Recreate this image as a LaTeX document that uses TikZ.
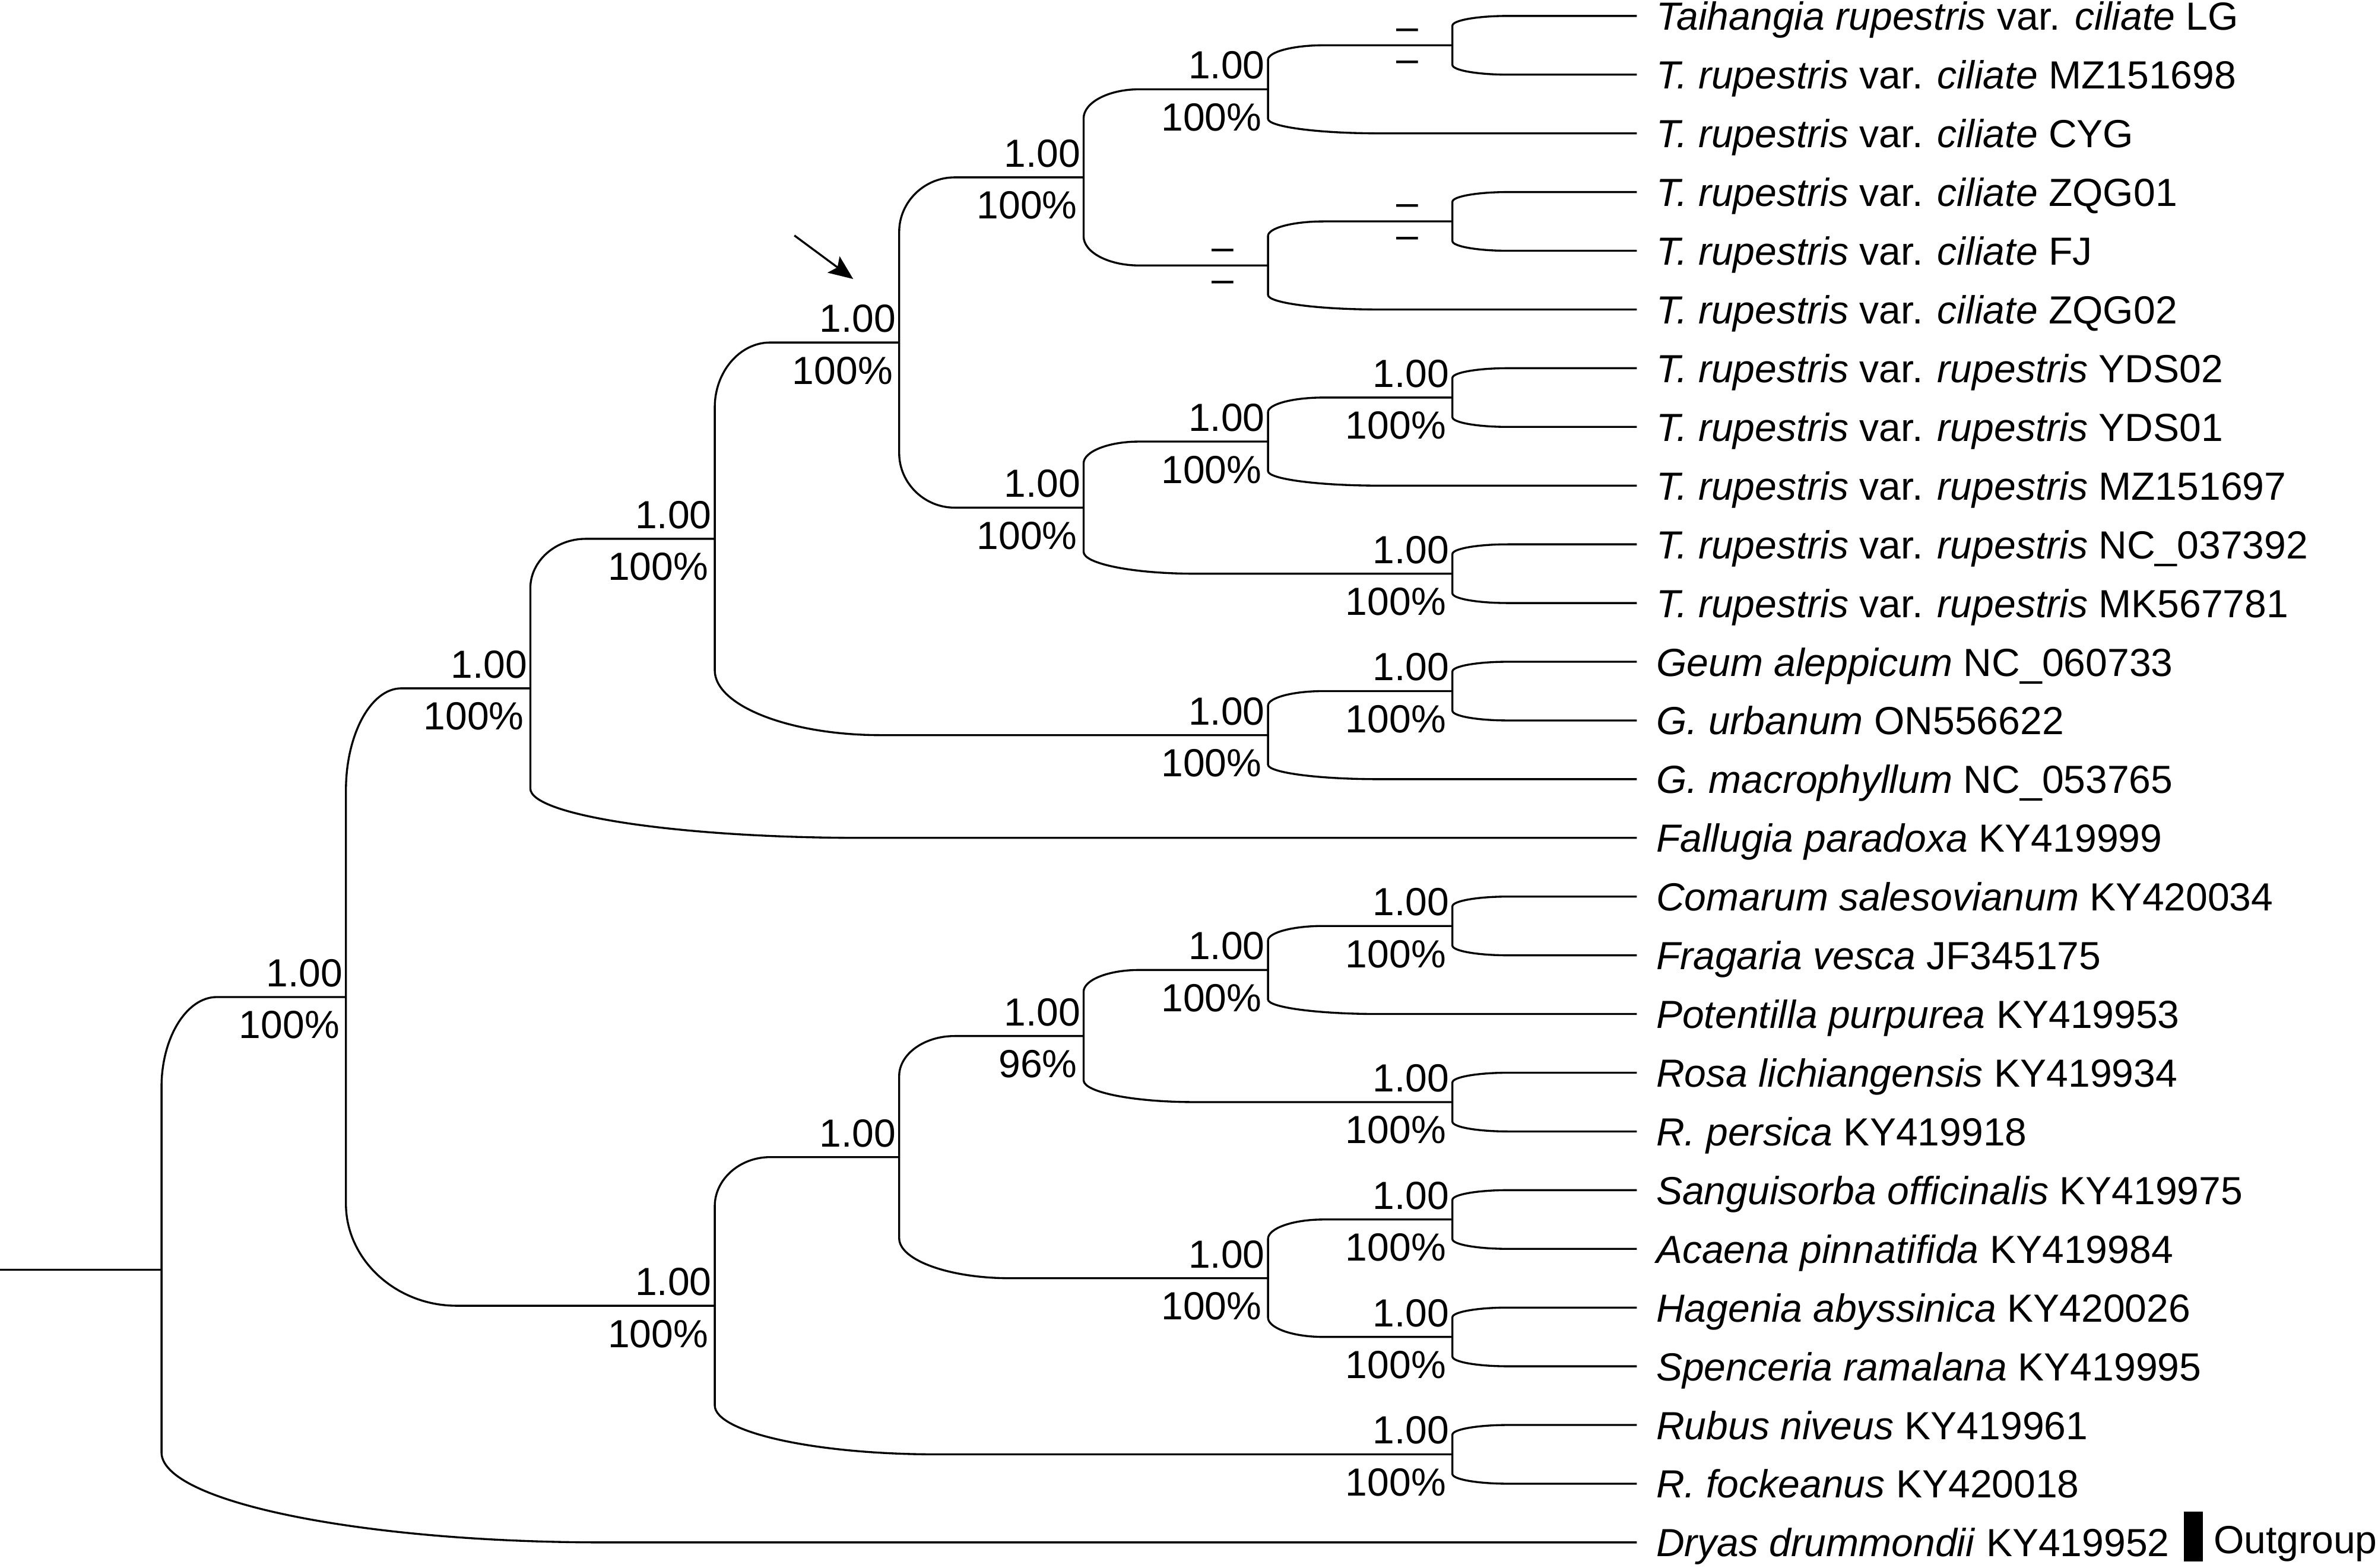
\documentclass[tikz,border=0pt]{standalone}
\usepackage{fontspec}
\setmainfont{Liberation Sans}
\usetikzlibrary{calc,arrows.meta}

\begin{document}
\begin{tikzpicture}[x=3.1067cm, y=-0.98924cm, line width=0.95pt,
    font=\fontsize{18.8}{22}\selectfont,
    clade/.style = {to path={
      -- ($(\tikztostart |- \tikztotarget)!.33!(\tikztostart)$)
      .. controls ($(\tikztostart |- \tikztotarget)!.15!(\tikztostart)$)
      and ($(\tikztostart |- \tikztotarget)!.135!(\tikztotarget)$)
      .. ($(\tikztostart |- \tikztotarget)!.3!(\tikztotarget)$)
      -- (\tikztotarget)}},
    taxon/.style = {anchor=base west, inner sep=0pt,
      xshift=0.31cm, yshift=-0.240cm},
    pp/.style    = {anchor=base east, inner sep=0pt,
      xshift=-0.038cm, yshift=0.176cm},
    bs/.style    = {anchor=base east, inner sep=0pt,
      xshift=-0.092cm, yshift=-0.700cm},
    nsup/.style  = {anchor=base east, inner sep=0pt, text height=0.32em,
      text depth=0pt, xshift=-0.562cm, yshift=0.092cm},
    nsdown/.style = {anchor=base east, inner sep=0pt, text height=0.32em,
      text depth=0pt, xshift=-0.562cm, yshift=-0.455cm},
  ]
  \useasboundingbox (-0.8758,-0.2712) rectangle (12.0189,26.4334);

  % tips
  \foreach \i/\txt in {
    1/{\textit{Taihangia rupestris} var. \textit{ciliate} LG},
    2/{\textit{T. rupestris} var. \textit{ciliate} MZ151698},
    3/{\textit{T. rupestris} var. \textit{ciliate} CYG},
    4/{\textit{T. rupestris} var. \textit{ciliate} ZQG01},
    5/{\textit{T. rupestris} var. \textit{ciliate} FJ},
    6/{\textit{T. rupestris} var. \textit{ciliate} ZQG02},
    7/{\textit{T. rupestris} var. \textit{rupestris} YDS02},
    8/{\textit{T. rupestris} var. \textit{rupestris} YDS01},
    9/{\textit{T. rupestris} var. \textit{rupestris} MZ151697},
    10/{\textit{T. rupestris} var. \textit{rupestris} NC\_037392},
    11/{\textit{T. rupestris} var. \textit{rupestris} MK567781},
    12/{\textit{Geum aleppicum} NC\_060733},
    13/{\textit{G. urbanum} ON556622},
    14/{\textit{G. macrophyllum} NC\_053765},
    15/{\textit{Fallugia paradoxa} KY419999},
    16/{\textit{Comarum salesovianum} KY420034},
    17/{\textit{Fragaria vesca} JF345175},
    18/{\textit{Potentilla purpurea} KY419953},
    19/{\textit{Rosa lichiangensis} KY419934},
    20/{\textit{R. persica} KY419918},
    21/{\textit{Sanguisorba officinalis} KY419975},
    22/{\textit{Acaena pinnatifida} KY419984},
    23/{\textit{Hagenia abyssinica} KY420026},
    24/{\textit{Spenceria ramalana} KY419995},
    25/{\textit{Rubus niveus} KY419961},
    26/{\textit{R. fockeanus} KY420018},
    27/{\textit{Dryas drummondii} KY419952}} {
    \coordinate (l\i) at (8,\i-1);
    \node[taxon] (t\i) at (l\i) {\txt};
  }

  % internal nodes
  \coordinate (base)  at (-0.8758,21.3555);
  \coordinate (root)  at (0,21.3555);
  \coordinate (nA)    at (1,16.7109);
  \coordinate (nB)    at (2,11.4531);
  \coordinate (nC)    at (3,8.9063);
  \coordinate (nBot)  at (3,21.9688);
  \coordinate (nTai)  at (4,5.5625);
  \coordinate (nRos)  at (4,19.4375);
  \coordinate (nCil)  at (5,2.75);
  \coordinate (nRup)  at (5,8.375);
  \coordinate (nPot)  at (5,17.375);
  \coordinate (n123)  at (6,1.25);
  \coordinate (n456)  at (6,4.25);
  \coordinate (n789)  at (6,7.25);
  \coordinate (nGeum) at (6,12.25);
  \coordinate (n1618) at (6,16.25);
  \coordinate (nSan)  at (6,21.5);
  \coordinate (n12)   at (7,0.5);
  \coordinate (n45)   at (7,3.5);
  \coordinate (n78)   at (7,6.5);
  \coordinate (n1011) at (7,9.5);
  \coordinate (n1213) at (7,11.5);
  \coordinate (n1617) at (7,15.5);
  \coordinate (n1920) at (7,18.5);
  \coordinate (n2122) at (7,20.5);
  \coordinate (n2324) at (7,22.5);
  \coordinate (n2526) at (7,24.5);

  \draw[clade] (base) -- (root)
    (root) to (nA) (root) to (l27)
    (nA) to (nB) (nA) to (nBot)
    (nB) to (nC) (nB) to (l15)
    (nC) to (nTai) (nC) to (nGeum)
    (nTai) to (nCil) (nTai) to (nRup)
    (nCil) to (n123) (nCil) to (n456)
    (n123) to (n12) (n123) to (l3)
    (n12) to (l1) (n12) to (l2)
    (n456) to (n45) (n456) to (l6)
    (n45) to (l4) (n45) to (l5)
    (nRup) to (n789) (nRup) to (n1011)
    (n789) to (n78) (n789) to (l9)
    (n78) to (l7) (n78) to (l8)
    (n1011) to (l10) (n1011) to (l11)
    (nGeum) to (n1213) (nGeum) to (l14)
    (n1213) to (l12) (n1213) to (l13)
    (nBot) to (nRos) (nBot) to (n2526)
    (nRos) to (nPot) (nRos) to (nSan)
    (nPot) to (n1618) (nPot) to (n1920)
    (n1618) to (n1617) (n1618) to (l18)
    (n1617) to (l16) (n1617) to (l17)
    (n1920) to (l19) (n1920) to (l20)
    (nSan) to (n2122) (nSan) to (n2324)
    (n2122) to (l21) (n2122) to (l22)
    (n2324) to (l23) (n2324) to (l24)
    (n2526) to (l25) (n2526) to (l26);

  % support values
  \foreach \n/\b in {nA/100, nB/100, nC/100, nTai/100, nCil/100, n123/100,
      nRup/100, n789/100, n78/100, n1011/100, nGeum/100, n1213/100,
      nBot/100, nPot/96, n1618/100, n1617/100, n1920/100, nSan/100,
      n2122/100, n2324/100, n2526/100} {
    \node[pp] (p\n) at (\n) {1.00};
    \node[bs] (b\n) at (\n) {\b\%};
  }
  \node[pp] (pnRos) at (nRos) {1.00};
  \foreach \n in {n12, n45, n456} {
    \node[nsup] (u\n) at (\n) {\textendash};
    \node[nsdown] (d\n) at (\n) {\textendash};
  }

  \coordinate (arrtail) at (3.4317,3.7397);
  \coordinate (arrtip)  at (3.7508,4.4809);
  \draw[-{Stealth[length=0.41cm,width=0.34cm,inset=0.08cm]}] (arrtail) -- (arrtip);

  \node[fill, inner sep=0pt, minimum width=0.317cm, minimum height=0.838cm]
    (ogbar) at (11.0173,25.896) {};
  \node[anchor=base west, inner sep=0pt, xshift=0.15cm, yshift=-0.286cm]
    (og) at (ogbar.east) {Outgroup};
\end{tikzpicture}
\end{document}
